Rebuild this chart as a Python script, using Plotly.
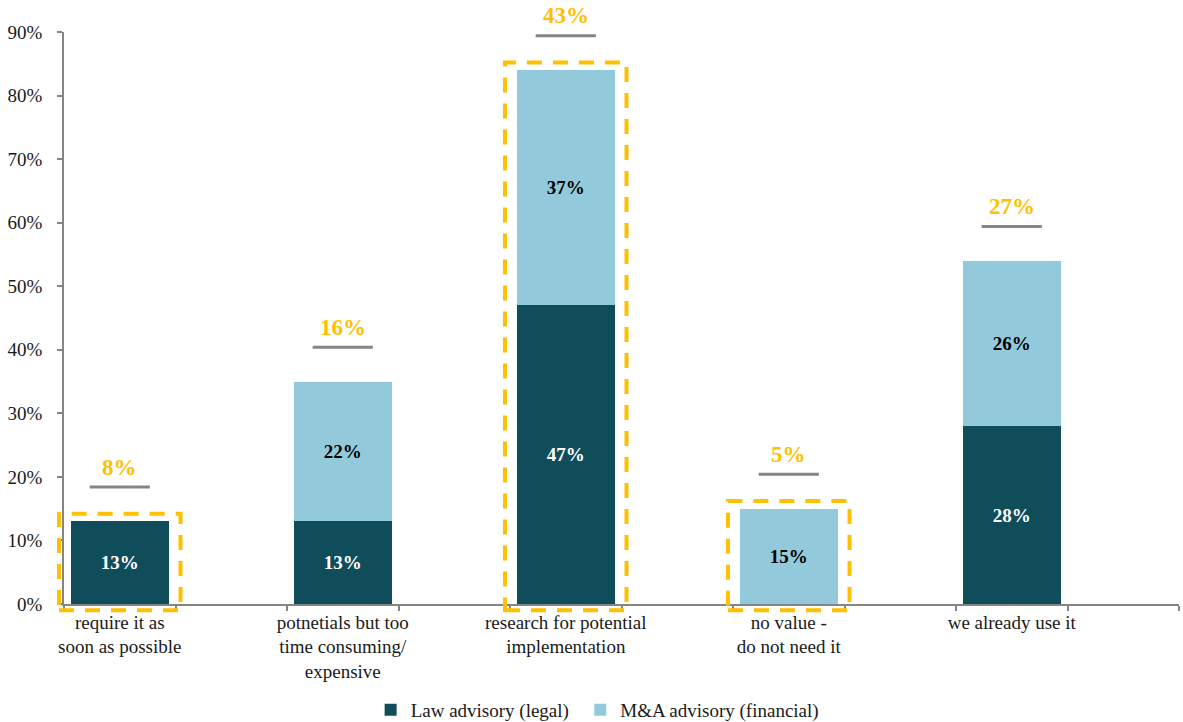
import plotly.graph_objects as go

# --- data -------------------------------------------------------------
categories = [
    "require it as<br>soon as possible",
    "potnetials but too<br>time consuming/<br>expensive",
    "research for potential<br>implementation",
    "no value -<br>do not need it",
    "we already use it",
]
law_advisory = [13, 13, 47, 0, 28]      # Law advisory (legal), %
ma_advisory = [0, 22, 37, 15, 26]       # M&A advisory (financial), %
overall_share = [8, 16, 43, 5, 27]      # overall share shown above each bar, %
highlighted = [True, False, True, True, False]
y_ticks = [0, 10, 20, 30, 40, 50, 60, 70, 80, 90]

# --- styling ----------------------------------------------------------
DARK = "#104D5A"
LIGHT = "#92CADB"
GOLD = "#FFC000"
GREY = "#858585"
FONT = "Liberation Serif"

# each bar sits in every other slot of a 10-slot axis
xpos = [2 * i for i in range(len(categories))]
x_range = [-0.5, 9.5]
y_range = [0, 90]
bar_width = 0.88

totals = [a + b for a, b in zip(law_advisory, ma_advisory)]

fig = go.Figure()

fig.add_trace(go.Bar(
    x=xpos, y=law_advisory, name="Law advisory (legal)", legend="legend",
    marker=dict(color=DARK, line=dict(width=0)), width=bar_width,
    text=[f"{v}%" if v else "" for v in law_advisory],
    textposition="inside", insidetextanchor="middle",
    textfont=dict(family=FONT, size=19, color="white", weight="bold"),
    hoverinfo="skip",
))
fig.add_trace(go.Bar(
    x=xpos, y=ma_advisory, name="M&A advisory (financial)", legend="legend2",
    marker=dict(color=LIGHT, line=dict(width=0)), width=bar_width,
    text=[f"{v}%" if v else "" for v in ma_advisory],
    textposition="inside", insidetextanchor="middle",
    textfont=dict(family=FONT, size=19, color="black", weight="bold"),
    hoverinfo="skip",
))

# grey marker line a little above each stack
marker_gap = 5.4
fig.add_trace(go.Scatter(
    x=xpos, y=[t + marker_gap for t in totals], mode="markers",
    marker=dict(symbol="line-ew", size=43, color=GREY,
                line=dict(width=3, color=GREY)),
    showlegend=False, hoverinfo="skip", cliponaxis=False,
))

# overall share labels above the grey lines
for x, t, s in zip(xpos, totals, overall_share):
    fig.add_annotation(
        x=x, y=t + marker_gap, text=f"<b>{s}%</b>", showarrow=False,
        yanchor="middle", yshift=20,
        font=dict(family=FONT, size=23, color=GOLD),
    )

# dashed highlight frames around selected bars
span_x = x_range[1] - x_range[0]
span_y = y_range[1] - y_range[0]
half_w = 0.545
for x, t, h in zip(xpos, totals, highlighted):
    if not h:
        continue
    fig.add_shape(
        type="rect", xref="x domain", yref="y domain",
        x0=(x - half_w - x_range[0]) / span_x,
        x1=(x + half_w - x_range[0]) / span_x,
        y0=(-1.0 - y_range[0]) / span_y,
        y1=(t + 1.2 - y_range[0]) / span_y,
        line=dict(color=GOLD, width=4, dash="15px,11px"),
        layer="above",
    )

legend_style = dict(
    orientation="h", xanchor="left", y=-0.185, yanchor="middle",
    font=dict(family=FONT, size=19, color="#1a1a1a"),
    itemsizing="constant", bgcolor="rgba(0,0,0,0)",
)

fig.update_layout(
    width=1183, height=722,
    margin=dict(l=64, r=4, t=32, b=118, autoexpand=False),
    barmode="stack",
    plot_bgcolor="white", paper_bgcolor="white",
    font=dict(family=FONT, size=19, color="#1a1a1a"),
    showlegend=True,
    legend=dict(x=0.275, **legend_style),
    legend2=dict(x=0.463, **legend_style),
    xaxis=dict(
        range=x_range, showgrid=False, zeroline=False, automargin=False,
        showline=True, linecolor=GREY, linewidth=1.5,
        tickmode="array", tickvals=xpos, ticktext=categories,
        ticks="", ticklen=0,
        tickfont=dict(family=FONT, size=19, color="#1a1a1a"),
        minor=dict(
            tickmode="array",
            tickvals=[x_range[0] + k for k in range(11)],
            ticks="outside", ticklen=5, tickcolor=GREY, tickwidth=1.5,
            showgrid=False,
        ),
    ),
    yaxis=dict(
        range=y_range, showgrid=False, zeroline=False, automargin=False,
        showline=True, linecolor=GREY, linewidth=1.5,
        tickmode="array", tickvals=y_ticks,
        ticktext=[f"{v}%" for v in y_ticks],
        ticks="outside", ticklen=5, tickcolor=GREY, tickwidth=1.5,
        ticklabelstandoff=11,
        tickfont=dict(family=FONT, size=19, color="#1a1a1a"),
    ),
)

fig.write_html("out.html")
